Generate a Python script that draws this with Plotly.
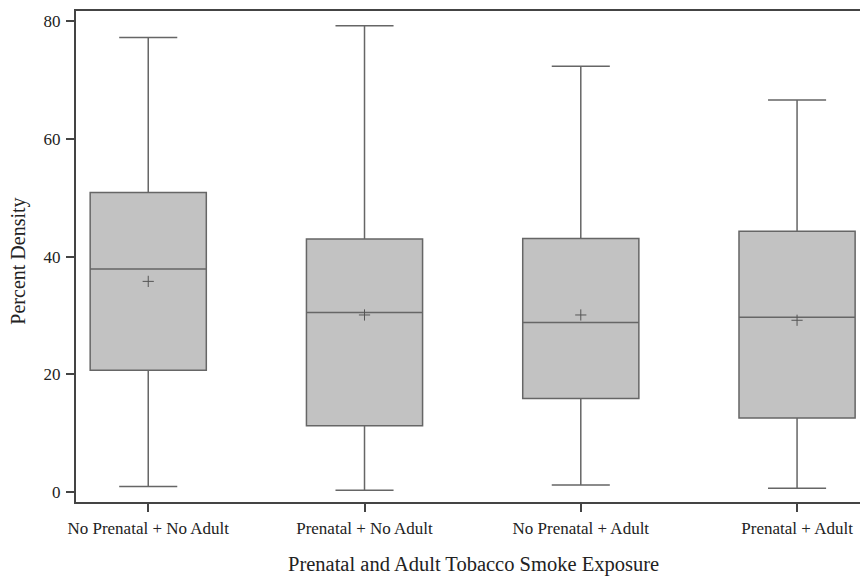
import plotly.graph_objects as go

categories = ["No Prenatal + No Adult", "Prenatal + No Adult", "No Prenatal + Adult", "Prenatal + Adult"]
lower_whisker = [1.0, 0.35, 1.25, 0.7]
q1_values = [20.7, 11.3, 15.9, 12.6]
median_values = [37.9, 30.5, 28.8, 29.7]
q3_values = [50.9, 43.0, 43.1, 44.3]
upper_whisker = [77.2, 79.2, 72.3, 66.6]
mean_values = [35.8, 30.1, 30.1, 29.2]
y_ticks = [0, 20, 40, 60, 80]

FONT = "Liberation Serif"
AXIS_COLOR = "#444444"

fig = go.Figure()
fig.add_trace(go.Box(
    x=categories,
    q1=q1_values,
    median=median_values,
    q3=q3_values,
    lowerfence=lower_whisker,
    upperfence=upper_whisker,
    fillcolor="#c2c2c2",
    line=dict(color="#666666", width=1.5),
    whiskerwidth=0.5,
    boxpoints=False,
    showlegend=False,
    hoverinfo="skip",
))
fig.add_trace(go.Scatter(
    x=categories,
    y=mean_values,
    mode="markers",
    marker=dict(symbol="cross-thin", size=8, line=dict(width=1, color="#555555"), color="#555555"),
    showlegend=False,
    hoverinfo="skip",
))

fig.update_layout(
    width=860, height=579,
    margin=dict(l=76, r=0, t=11, b=77, autoexpand=False),
    plot_bgcolor="white", paper_bgcolor="white",
    boxgap=0.463,
    boxgroupgap=0,
    font=dict(family=FONT, size=17, color="#222222"),
    xaxis=dict(
        type="category",
        range=[-0.334, 3.291],
        automargin=False,
        showline=True, linecolor=AXIS_COLOR, linewidth=2, mirror=True,
        ticks="outside", ticklen=8, tickwidth=2, tickcolor=AXIS_COLOR,
        showgrid=False, zeroline=False,
        tickfont=dict(family=FONT, size=17, color="#222222"),
        ticklabelstandoff=2,
    ),
    yaxis=dict(
        range=[-1.65, 81.7],
        tickvals=y_ticks,
        automargin=False,
        showline=True, linecolor=AXIS_COLOR, linewidth=2, mirror=False,
        ticks="outside", ticklen=8, tickwidth=2, tickcolor=AXIS_COLOR,
        showgrid=False, zeroline=False,
        tickfont=dict(family=FONT, size=17, color="#222222"),
        ticklabelstandoff=2,
    ),
    annotations=[
        dict(text="Prenatal and Adult Tobacco Smoke Exposure", xref="paper", yref="paper",
             x=0.5064, y=-0.128, xanchor="center", yanchor="middle", showarrow=False,
             font=dict(family=FONT, size=20.5, color="#222222")),
        dict(text="Percent Density", xref="paper", yref="paper",
             x=-0.0727, y=0.4895, xanchor="center", yanchor="middle", showarrow=False,
             textangle=-90, font=dict(family=FONT, size=20, color="#222222")),
    ],
)

fig.write_html("out.html", config={"displayModeBar": False},
               post_script="document.body.style.margin='0';document.body.style.padding='0';")
